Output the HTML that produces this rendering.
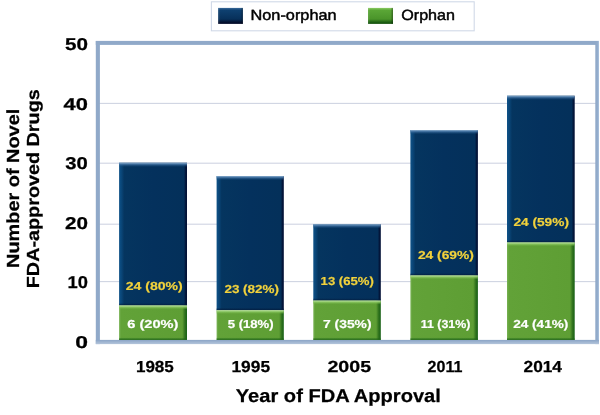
<!DOCTYPE html>
<html><head><meta charset="utf-8"><title>Chart</title>
<style>
html,body{margin:0;padding:0;background:#fff;}
body{width:600px;height:415px;overflow:hidden;}
svg{display:block;}
text{font-family:"Liberation Sans",sans-serif;text-rendering:geometricPrecision;}
</style></head><body>
<svg width="600" height="415" viewBox="0 0 600 415">
<defs>
<linearGradient id="nv" x1="0" y1="0" x2="1" y2="0">
<stop offset="0" stop-color="#0e5288"/><stop offset="0.035" stop-color="#0a4678"/><stop offset="0.075" stop-color="#05355f"/><stop offset="0.5" stop-color="#04315d"/><stop offset="0.955" stop-color="#04305a"/><stop offset="0.98" stop-color="#03163a"/><stop offset="1" stop-color="#020f34"/>
</linearGradient>
<linearGradient id="gr" x1="0" y1="0" x2="1" y2="0">
<stop offset="0" stop-color="#78b254"/><stop offset="0.03" stop-color="#62a238"/><stop offset="0.93" stop-color="#5e9e34"/><stop offset="0.97" stop-color="#2e701c"/><stop offset="1" stop-color="#176016"/>
</linearGradient>
<linearGradient id="nvt" x1="0" y1="0" x2="0" y2="1">
<stop offset="0" stop-color="#8eb0d0"/><stop offset="0.35" stop-color="#4878a8" stop-opacity="0.85"/><stop offset="1" stop-color="#0d4274" stop-opacity="0"/>
</linearGradient>
<linearGradient id="grt" x1="0" y1="0" x2="0" y2="1">
<stop offset="0" stop-color="#c2e4ac"/><stop offset="0.4" stop-color="#8eca66" stop-opacity="0.85"/><stop offset="1" stop-color="#6aae3c" stop-opacity="0"/>
</linearGradient>
<linearGradient id="grb" x1="0" y1="0" x2="0" y2="1">
<stop offset="0" stop-color="#1e6418" stop-opacity="0"/><stop offset="1" stop-color="#1e6418"/>
</linearGradient>
<linearGradient id="nvb" x1="0" y1="0" x2="0" y2="1">
<stop offset="0" stop-color="#031c3e" stop-opacity="0"/><stop offset="1" stop-color="#031c3e" stop-opacity="0.9"/>
</linearGradient>
<linearGradient id="snv" x1="0" y1="0" x2="0" y2="1">
<stop offset="0" stop-color="#3a6a9a"/><stop offset="0.15" stop-color="#0e4070"/><stop offset="0.7" stop-color="#07305a"/><stop offset="0.9" stop-color="#03102e"/><stop offset="1" stop-color="#020a28"/>
</linearGradient>
<linearGradient id="sgr" x1="0" y1="0" x2="0" y2="1">
<stop offset="0" stop-color="#8ccc64"/><stop offset="0.15" stop-color="#5aa636"/><stop offset="0.7" stop-color="#4a942a"/><stop offset="0.9" stop-color="#1c5e12"/><stop offset="1" stop-color="#14500c"/>
</linearGradient>
<linearGradient id="sedge" x1="0" y1="0" x2="1" y2="0">
<stop offset="0" stop-color="#fff" stop-opacity="0.12"/><stop offset="0.1" stop-color="#fff" stop-opacity="0"/><stop offset="0.9" stop-color="#000" stop-opacity="0"/><stop offset="1" stop-color="#000" stop-opacity="0.35"/>
</linearGradient>
<linearGradient id="fr" x1="0" y1="0" x2="1" y2="0">
<stop offset="0" stop-color="#8fa8c8"/><stop offset="0.6" stop-color="#94adcc"/><stop offset="1" stop-color="#adc4e0"/>
</linearGradient>
<linearGradient id="fb" x1="0" y1="0" x2="0" y2="1">
<stop offset="0" stop-color="#8aa4c6"/><stop offset="1" stop-color="#b4c5db"/>
</linearGradient>
</defs>
<rect width="600" height="415" fill="#fff"/>

<rect x="98" y="102.85" width="498" height="1.1" fill="#cfd4e2"/>
<rect x="98" y="162.65" width="498" height="1.1" fill="#cfd4e2"/>
<rect x="98" y="223.65" width="498" height="1.1" fill="#cfd4e2"/>
<rect x="98" y="281.05" width="498" height="1.1" fill="#cfd4e2"/>
<rect x="95.8" y="40.9" width="503.2" height="4.0" fill="#90a9c9"/>
<rect x="95.8" y="41" width="4.1" height="303.1" fill="#90a9c9"/>
<rect x="595.3" y="41" width="3.7" height="303.1" fill="url(#fr)"/>
<rect x="95.8" y="339.9" width="503.2" height="4.2" fill="url(#fb)"/>
<rect x="119.1" y="162.7" width="67.9" height="142.8" fill="url(#nv)"/>
<rect x="119.1" y="162.7" width="67.9" height="4.5" fill="url(#nvt)"/>
<rect x="119.1" y="303.0" width="67.9" height="2.5" fill="url(#nvb)"/>
<rect x="119.1" y="305.5" width="67.9" height="34.4" fill="url(#gr)"/>
<rect x="119.1" y="305.5" width="67.9" height="4" fill="url(#grt)"/>
<rect x="119.1" y="337.4" width="67.9" height="2.5" fill="url(#grb)"/>
<rect x="216.6" y="176.0" width="67.2" height="134.2" fill="url(#nv)"/>
<rect x="216.6" y="176.0" width="67.2" height="4.5" fill="url(#nvt)"/>
<rect x="216.6" y="307.7" width="67.2" height="2.5" fill="url(#nvb)"/>
<rect x="216.6" y="310.2" width="67.2" height="29.7" fill="url(#gr)"/>
<rect x="216.6" y="310.2" width="67.2" height="4" fill="url(#grt)"/>
<rect x="216.6" y="337.4" width="67.2" height="2.5" fill="url(#grb)"/>
<rect x="313.3" y="224.2" width="67.5" height="76.4" fill="url(#nv)"/>
<rect x="313.3" y="224.2" width="67.5" height="4.5" fill="url(#nvt)"/>
<rect x="313.3" y="298.1" width="67.5" height="2.5" fill="url(#nvb)"/>
<rect x="313.3" y="300.6" width="67.5" height="39.3" fill="url(#gr)"/>
<rect x="313.3" y="300.6" width="67.5" height="4" fill="url(#grt)"/>
<rect x="313.3" y="337.4" width="67.5" height="2.5" fill="url(#grb)"/>
<rect x="410.4" y="130.0" width="67.5" height="145.5" fill="url(#nv)"/>
<rect x="410.4" y="130.0" width="67.5" height="4.5" fill="url(#nvt)"/>
<rect x="410.4" y="273.0" width="67.5" height="2.5" fill="url(#nvb)"/>
<rect x="410.4" y="275.5" width="67.5" height="64.4" fill="url(#gr)"/>
<rect x="410.4" y="275.5" width="67.5" height="4" fill="url(#grt)"/>
<rect x="410.4" y="337.4" width="67.5" height="2.5" fill="url(#grb)"/>
<rect x="507.0" y="95.7" width="67.7" height="146.8" fill="url(#nv)"/>
<rect x="507.0" y="95.7" width="67.7" height="4.5" fill="url(#nvt)"/>
<rect x="507.0" y="240.0" width="67.7" height="2.5" fill="url(#nvb)"/>
<rect x="507.0" y="242.5" width="67.7" height="97.4" fill="url(#gr)"/>
<rect x="507.0" y="242.5" width="67.7" height="4" fill="url(#grt)"/>
<rect x="507.0" y="337.4" width="67.7" height="2.5" fill="url(#grb)"/>
<rect x="211.4" y="1.8" width="262.8" height="29.0" fill="#fff" stroke="#d0d9e7" stroke-width="1.1"/>
<rect x="218.1" y="7.9" width="24.8" height="16.0" fill="url(#snv)"/>
<rect x="218.1" y="7.9" width="24.8" height="16.0" fill="url(#sedge)"/>
<rect x="368" y="7.9" width="25" height="16.0" fill="url(#sgr)"/>
<rect x="368" y="7.9" width="25" height="16.0" fill="url(#sedge)"/>
<text transform="translate(125.80,290.10) scale(1.2064,1)" font-size="11.65" font-weight="bold" fill="#f2d23c" stroke="#f2d23c" stroke-width="0.2">24 (80%)</text>
<text transform="translate(127.24,327.80) scale(1.2543,1)" font-size="11.65" font-weight="bold" fill="#ffffff" stroke="#ffffff" stroke-width="0.2">6 (20%)</text>
<text transform="translate(224.41,293.40) scale(1.1549,1)" font-size="11.65" font-weight="bold" fill="#f2d23c" stroke="#f2d23c" stroke-width="0.2">23 (82%)</text>
<text transform="translate(227.72,327.80) scale(1.1258,1)" font-size="11.65" font-weight="bold" fill="#ffffff" stroke="#ffffff" stroke-width="0.2">5 (18%)</text>
<text transform="translate(320.62,285.30) scale(1.1268,1)" font-size="11.65" font-weight="bold" fill="#f2d23c" stroke="#f2d23c" stroke-width="0.2">13 (65%)</text>
<text transform="translate(323.06,327.80) scale(1.1892,1)" font-size="11.65" font-weight="bold" fill="#ffffff" stroke="#ffffff" stroke-width="0.2">7 (35%)</text>
<text transform="translate(417.90,258.70) scale(1.1828,1)" font-size="11.65" font-weight="bold" fill="#f2d23c" stroke="#f2d23c" stroke-width="0.2">24 (69%)</text>
<text transform="translate(420.76,327.80) scale(1.0651,1)" font-size="11.65" font-weight="bold" fill="#ffffff" stroke="#ffffff" stroke-width="0.2">11 (31%)</text>
<text transform="translate(513.41,225.90) scale(1.1763,1)" font-size="11.65" font-weight="bold" fill="#f2d23c" stroke="#f2d23c" stroke-width="0.2">24 (59%)</text>
<text transform="translate(513.21,327.90) scale(1.1656,1)" font-size="11.65" font-weight="bold" fill="#ffffff" stroke="#ffffff" stroke-width="0.2">24 (41%)</text>
<text transform="translate(64.93,50.10) scale(1.2073,1)" font-size="17.12" font-weight="bold" stroke="#000000" stroke-width="0.25">50</text>
<text transform="translate(63.62,110.10) scale(1.2782,1)" font-size="17.12" font-weight="bold" stroke="#000000" stroke-width="0.25">40</text>
<text transform="translate(65.34,169.40) scale(1.1850,1)" font-size="17.12" font-weight="bold" stroke="#000000" stroke-width="0.25">30</text>
<text transform="translate(64.93,229.00) scale(1.2073,1)" font-size="17.12" font-weight="bold" stroke="#000000" stroke-width="0.25">20</text>
<text transform="translate(67.43,288.20) scale(1.0716,1)" font-size="17.12" font-weight="bold" stroke="#000000" stroke-width="0.25">10</text>
<text transform="translate(75.35,348.10) scale(1.3378,1)" font-size="17.12" font-weight="bold" stroke="#000000" stroke-width="0.25">0</text>
<text transform="translate(135.91,372.00) scale(1.0660,1)" font-size="15.97" font-weight="bold" stroke="#000000" stroke-width="0.25">1985</text>
<text transform="translate(231.39,372.00) scale(1.0892,1)" font-size="15.97" font-weight="bold" stroke="#000000" stroke-width="0.25">1995</text>
<text transform="translate(327.46,372.00) scale(1.2290,1)" font-size="15.97" font-weight="bold" stroke="#000000" stroke-width="0.25">2005</text>
<text transform="translate(427.54,372.00) scale(1.0044,1)" font-size="15.97" font-weight="bold" stroke="#000000" stroke-width="0.25">2011</text>
<text transform="translate(523.52,372.00) scale(1.0816,1)" font-size="15.97" font-weight="bold" stroke="#000000" stroke-width="0.25">2014</text>
<text transform="translate(235.83,401.90) scale(1.0842,1)" font-size="18.54" font-weight="bold" stroke="#000000" stroke-width="0.25">Year of FDA Approval</text>
<text transform="translate(19.30,267.95) rotate(-90) scale(1.1360,1)" font-size="17.52" font-weight="bold" stroke="#000000" stroke-width="0.25">Number of Novel</text>
<text transform="translate(39.30,288.24) rotate(-90) scale(1.1297,1)" font-size="17.52" font-weight="bold" stroke="#000000" stroke-width="0.25">FDA-approved Drugs</text>
<text transform="translate(250.54,20.40) scale(1.1058,1)" font-size="14.74" stroke="#000000" stroke-width="0.45">Non-orphan</text>
<text transform="translate(401.24,20.40) scale(1.0933,1)" font-size="14.74" stroke="#000000" stroke-width="0.45">Orphan</text>
</svg></body></html>
